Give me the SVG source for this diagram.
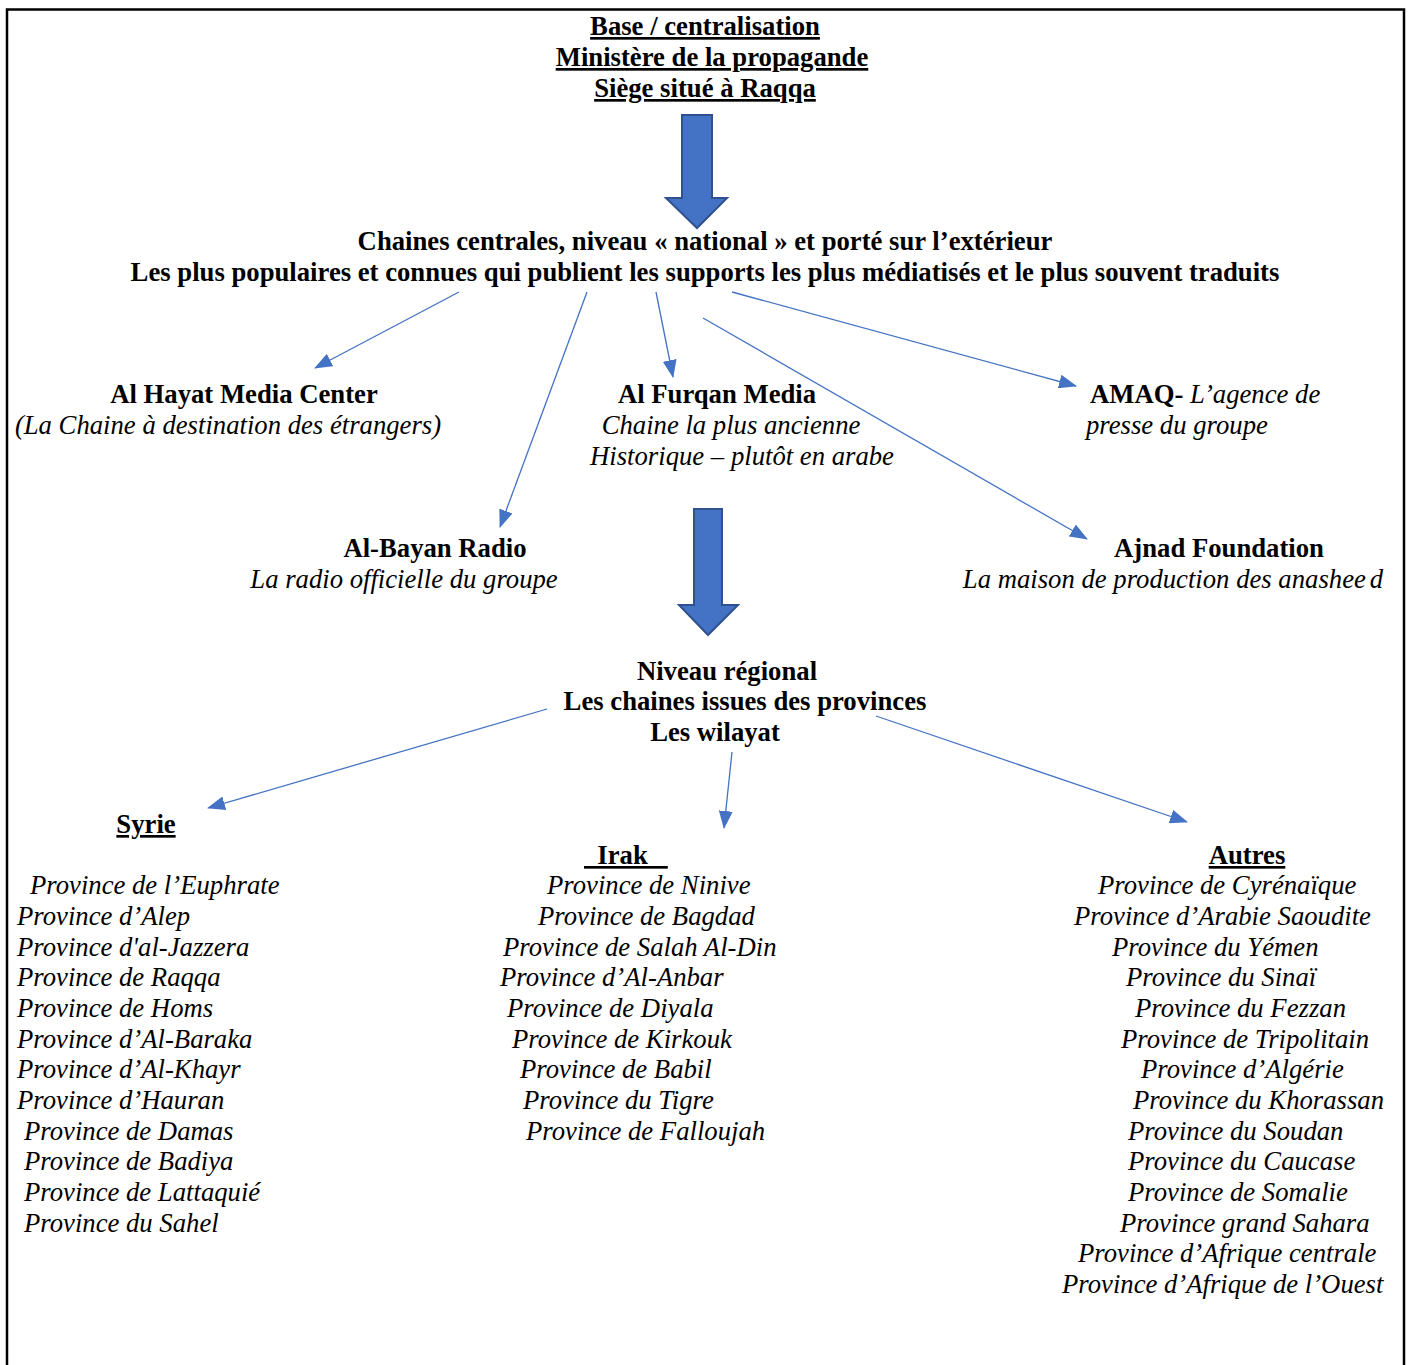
<svg xmlns="http://www.w3.org/2000/svg" width="1408" height="1365" viewBox="0 0 1408 1365">
<style>
.b{font-weight:bold;font-size:26.7px;}
.i{font-style:italic;font-size:26.7px;}
.u{text-decoration:underline;}
.c{text-anchor:middle;}
.con{stroke:#4472C4;stroke-width:1.3;fill:none;marker-end:url(#ah);}
.blk{fill:#4472C4;stroke:#2F528F;stroke-width:2;}
</style>
<defs>
<marker id="ah" markerUnits="userSpaceOnUse" markerWidth="18" markerHeight="14" refX="17" refY="7" orient="auto">
<path d="M0,0 L18,7 L0,14 Z" fill="#4472C4"/>
</marker>
</defs>
<rect width="1408" height="1365" fill="#fff"/>
<path d="M7,1365 V9.5 H1404 V1365" fill="none" stroke="#000" stroke-width="2.5"/>
<g font-family="Liberation Serif" fill="#000" transform="translate(0,1)">
<g id="base">
<text class="b u c" x="705" y="34">Base / centralisation</text>
<text class="b u c" x="712" y="65">Ministère de la propagande</text>
<text class="b u c" x="705" y="96">Siège situé à Raqqa</text>
</g>
<g id="central">
<text class="b c" x="705" y="249">Chaines centrales, niveau « national » et porté sur l’extérieur</text>
<text class="b c" x="705" y="280">Les plus populaires et connues qui publient les supports les plus médiatisés et le plus souvent traduits</text>
</g>
<g id="hayat">
<text class="b c" x="244" y="402">Al Hayat Media Center</text>
<text class="i c" x="228" y="433">(La Chaine à destination des étrangers)</text>
</g>
<g id="furqan">
<text class="b c" x="717" y="402">Al Furqan Media</text>
<text class="i c" x="731" y="433">Chaine la plus ancienne</text>
<text class="i c" x="742" y="464">Historique – plutôt en arabe</text>
</g>
<g id="amaq">
<text x="1090" y="402" font-size="26.7"><tspan font-weight="bold">AMAQ-</tspan><tspan font-style="italic"> L’agence de</tspan></text>
<text class="i" x="1086" y="433">presse du groupe</text>
</g>
<g id="bayan">
<text class="b c" x="435" y="556">Al-Bayan Radio</text>
<text class="i c" x="404" y="587">La radio officielle du groupe</text>
</g>
<g id="ajnad">
<text class="b c" x="1219" y="556">Ajnad Foundation</text>
<text class="i c" x="1173" y="587">La maison de production des anashee<tspan dx="4">d</tspan></text>
</g>
<g id="regional">
<text class="b c" x="727" y="679">Niveau régional</text>
<text class="b c" x="745" y="709">Les chaines issues des provinces</text>
<text class="b c" x="715" y="740">Les wilayat</text>
</g>
<g id="syrie">
<text class="b u c" x="146" y="832">Syrie</text>
<text class="i" x="30" y="893">Province de l’Euphrate</text>
<text class="i" x="17" y="924">Province d’Alep</text>
<text class="i" x="17" y="955">Province d'al-Jazzera</text>
<text class="i" x="17" y="985">Province de Raqqa</text>
<text class="i" x="17" y="1016">Province de Homs</text>
<text class="i" x="17" y="1047">Province d’Al-Baraka</text>
<text class="i" x="17" y="1077">Province d’Al-Khayr</text>
<text class="i" x="17" y="1108">Province d’Hauran</text>
<text class="i" x="24" y="1139">Province de Damas</text>
<text class="i" x="24" y="1169">Province de Badiya</text>
<text class="i" x="24" y="1200">Province de Lattaquié</text>
<text class="i" x="24" y="1231">Province du Sahel</text>
</g>
<g id="irak">
<text class="b u" x="584" y="863" xml:space="preserve">  Irak   </text>
<text class="i" x="547" y="893">Province de Ninive</text>
<text class="i" x="538" y="924">Province de Bagdad</text>
<text class="i" x="503" y="955">Province de Salah Al-Din</text>
<text class="i" x="500" y="985">Province d’Al-Anbar</text>
<text class="i" x="507" y="1016">Province de Diyala</text>
<text class="i" x="512" y="1047">Province de Kirkouk</text>
<text class="i" x="520" y="1077">Province de Babil</text>
<text class="i" x="523" y="1108">Province du Tigre</text>
<text class="i" x="526" y="1139">Province de Falloujah</text>
</g>
<g id="autres">
<text class="b u c" x="1247" y="863">Autres</text>
<text class="i" x="1098" y="893">Province de Cyrénaïque</text>
<text class="i" x="1074" y="924">Province d’Arabie Saoudite</text>
<text class="i" x="1112" y="955">Province du Yémen</text>
<text class="i" x="1126" y="985">Province du Sinaï</text>
<text class="i" x="1135" y="1016">Province du Fezzan</text>
<text class="i" x="1121" y="1047">Province de Tripolitain</text>
<text class="i" x="1141" y="1077">Province d’Algérie</text>
<text class="i" x="1133" y="1108">Province du Khorassan</text>
<text class="i" x="1128" y="1139">Province du Soudan</text>
<text class="i" x="1128" y="1169">Province du Caucase</text>
<text class="i" x="1128" y="1200">Province de Somalie</text>
<text class="i" x="1120" y="1231">Province grand Sahara</text>
<text class="i" x="1078" y="1261">Province d’Afrique centrale</text>
<text class="i" x="1062" y="1292">Province d’Afrique de l’Ouest</text>
</g>
</g>
<g id="arrow1"><path class="blk" d="M682,115 H712 V198 H727 L697,228 L666,198 H682 Z"/></g>
<g id="arrow2"><path class="blk" d="M694,509 H722 V605 H738 L708,635 L679,605 H694 Z"/></g>
<g id="connectors">
<line class="con" x1="459" y1="292" x2="315" y2="368"/>
<line class="con" x1="587" y1="292" x2="500" y2="527"/>
<line class="con" x1="656" y1="292" x2="673" y2="377"/>
<line class="con" x1="732" y1="292" x2="1076" y2="386"/>
<line class="con" x1="703" y1="318" x2="1087" y2="539"/>
<line class="con" x1="547" y1="709" x2="208" y2="808"/>
<line class="con" x1="732" y1="752" x2="724" y2="828"/>
<line class="con" x1="876" y1="716" x2="1187" y2="822"/>
</g>
</svg>
